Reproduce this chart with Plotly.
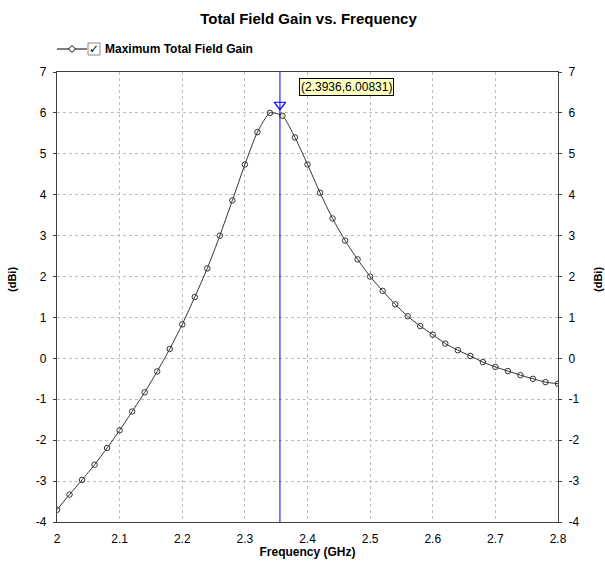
import plotly.graph_objects as go

# ---- data ----
freq_ghz = [2.00, 2.02, 2.04, 2.06, 2.08, 2.10, 2.12, 2.14, 2.16, 2.18,
            2.20, 2.22, 2.24, 2.26, 2.28, 2.30, 2.32, 2.34, 2.36, 2.38,
            2.40, 2.42, 2.44, 2.46, 2.48, 2.50, 2.52, 2.54, 2.56, 2.58,
            2.60, 2.62, 2.64, 2.66, 2.68, 2.70, 2.72, 2.74, 2.76, 2.78, 2.80]
gain_dbi = [-3.70, -3.33, -2.97, -2.60, -2.19, -1.76, -1.30, -0.83, -0.32, 0.23,
            0.83, 1.50, 2.20, 3.00, 3.86, 4.74, 5.53, 6.00, 5.93, 5.40,
            4.74, 4.05, 3.42, 2.88, 2.42, 2.00, 1.65, 1.32, 1.03, 0.79,
            0.58, 0.36, 0.20, 0.06, -0.09, -0.21, -0.31, -0.41, -0.50, -0.58, -0.62]
x_ticks = [2.0, 2.1, 2.2, 2.3, 2.4, 2.5, 2.6, 2.7, 2.8]
x_tick_labels = ["2", "2.1", "2.2", "2.3", "2.4", "2.5", "2.6", "2.7", "2.8"]
y_ticks = [-4, -3, -2, -1, 0, 1, 2, 3, 4, 5, 6, 7]
y_tick_labels = ["-4", "-3", "-2", "-1", "0", "1", "2", "3", "4", "5", "6", "7"]
series_name = "Maximum Total Field Gain"
cursor_freq = 2.356
cursor_marker_gain = 6.2
cursor_point_freq = 2.36
cursor_point_gain = 5.93
cursor_label = "(2.3936,6.00831)"

FONT = "Liberation Sans, Arial, sans-serif"

# pixel -> paper helpers (plot area: x 57..558, y 72..522)
def px(xp):
    return (xp - 57) / 501.0

def py(yp):
    return (522 - yp) / 450.0

fig = go.Figure()

fig.add_trace(go.Scatter(
    x=freq_ghz, y=gain_dbi, mode="lines+markers",
    line=dict(color="#333333", width=1, shape="spline", smoothing=0.6),
    marker=dict(symbol="circle-open", size=5.5, color="#333333", line=dict(width=1)),
    showlegend=False, hoverinfo="skip"))

# highlighted point + cursor marker
fig.add_trace(go.Scatter(
    x=[cursor_point_freq], y=[cursor_point_gain], mode="markers",
    marker=dict(symbol="circle", size=4, color="#e8e060"),
    showlegend=False, hoverinfo="skip"))
fig.add_trace(go.Scatter(
    x=[cursor_freq], y=[cursor_marker_gain], mode="markers",
    marker=dict(symbol="triangle-down-open", size=10, color="#0000ff", line=dict(width=1.2)),
    showlegend=False, hoverinfo="skip"))

# invisible trace for right axis
fig.add_trace(go.Scatter(
    x=freq_ghz, y=gain_dbi, yaxis="y2", mode="lines", opacity=0,
    showlegend=False, hoverinfo="skip"))

axis_common = dict(
    showline=True, linecolor="#404040", linewidth=1.2,
    gridcolor="#bdbdbd", griddash="3px,3px", gridwidth=1,
    zeroline=False, automargin=False,
    tickfont=dict(family=FONT, size=12, color="#000000"),
)

fig.update_layout(
    width=605, height=565,
    margin=dict(l=57, r=47, t=72, b=43),
    paper_bgcolor="white", plot_bgcolor="white",
    font=dict(family=FONT, color="#000000"),
    title=dict(text="<b>Total Field Gain vs. Frequency</b>",
               x=0.51, xanchor="center", y=1 - 19 / 565, yanchor="middle",
               font=dict(family=FONT, size=15, color="#000000")),
    xaxis=dict(range=[2.0, 2.8], tickvals=x_ticks, ticktext=x_tick_labels,
               mirror=True, ticks="", ticklabelstandoff=5,
               title=dict(text="<b>Frequency (GHz)</b>", standoff=3,
                          font=dict(family=FONT, size=12, color="#000000")),
               **axis_common),
    yaxis=dict(range=[-4, 7], tickvals=y_ticks, ticktext=y_tick_labels, mirror=True,
               ticks="outside", ticklen=3, tickcolor="#404040",
               ticklabelstandoff=4, **axis_common),
    yaxis2=dict(range=[-4, 7], tickvals=y_ticks, ticktext=y_tick_labels,
                overlaying="y", side="right", automargin=False,
                showgrid=False, showline=False, zeroline=False,
                ticks="outside", ticklen=3, tickcolor="#404040",
                ticklabelstandoff=4,
                tickfont=dict(family=FONT, size=12, color="#000000")),
    showlegend=False,
)

shapes = [
    # cursor line
    dict(type="line", xref="x", yref="paper", x0=cursor_freq, x1=cursor_freq,
         y0=0, y1=1, line=dict(color="#0000ff", width=1)),
    # legend line
    dict(type="line", xref="paper", yref="paper", x0=px(57), x1=px(87),
         y0=py(49), y1=py(49), line=dict(color="#000000", width=1)),
    # legend diamond
    dict(type="path", xref="paper", yref="paper", xsizemode="pixel", ysizemode="pixel",
         xanchor=px(72), yanchor=py(49), path="M -3.5 0 L 0 3.5 L 3.5 0 L 0 -3.5 Z",
         fillcolor="white", line=dict(color="#000000", width=1)),
    # checkbox
    dict(type="rect", xref="paper", yref="paper", x0=px(88), x1=px(100),
         y0=py(55), y1=py(43), fillcolor="white", line=dict(color="#888888", width=1)),
]
fig.update_layout(shapes=shapes)

annotations = [
    dict(text="<b>✓</b>", xref="paper", yref="paper", x=px(94), y=py(49),
         xanchor="center", yanchor="middle", showarrow=False,
         font=dict(family="DejaVu Sans", size=12, color="#000000")),
    dict(text="<b>" + series_name + "</b>", xref="paper", yref="paper",
         x=px(103), y=py(49), xanchor="left", yanchor="middle", showarrow=False,
         font=dict(family=FONT, size=12, color="#000000")),
    dict(text=cursor_label, xref="paper", yref="paper", x=px(346), y=py(87),
         xanchor="center", yanchor="middle", showarrow=False,
         bgcolor="#ffffc0", bordercolor="#000000", borderwidth=1, borderpad=1,
         font=dict(family=FONT, size=12, color="#000000")),
    dict(text="<b>(dBi)</b>", xref="paper", yref="paper", x=px(12), y=py(280),
         xanchor="center", yanchor="middle", textangle=-90, showarrow=False,
         font=dict(family=FONT, size=11, color="#000000")),
    dict(text="<b>(dBi)</b>", xref="paper", yref="paper", x=px(598), y=py(280),
         xanchor="center", yanchor="middle", textangle=-90, showarrow=False,
         font=dict(family=FONT, size=11, color="#000000")),
]
fig.update_layout(annotations=annotations)

fig.write_html("out.html")
